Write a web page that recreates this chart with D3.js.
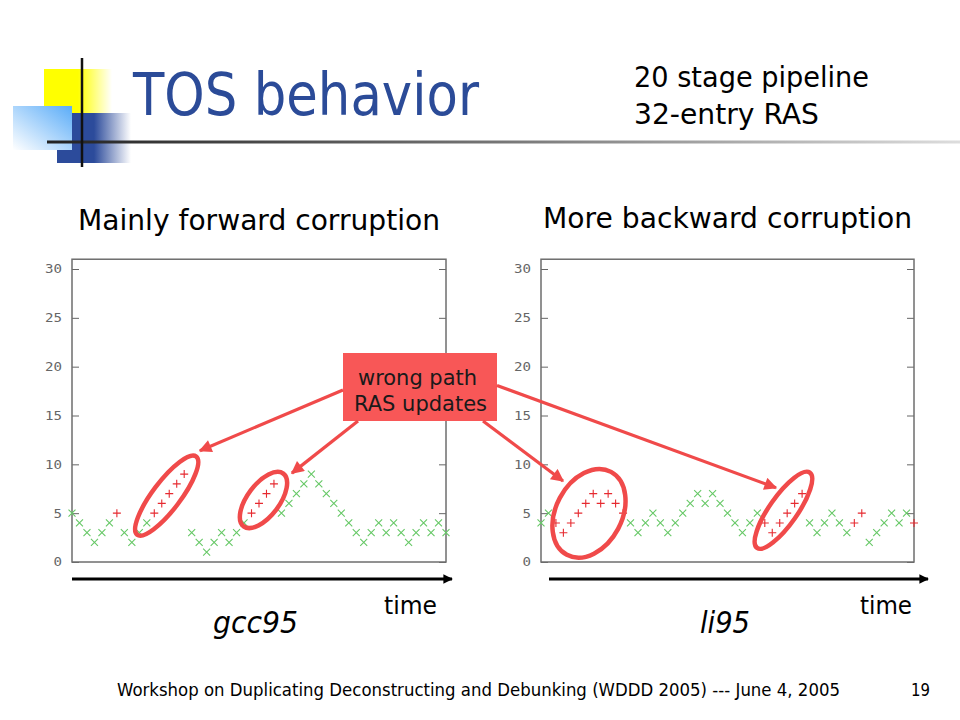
<!DOCTYPE html>
<html>
<head>
<meta charset="utf-8">
<script src="https://cdn.jsdelivr.net/npm/d3@7"></script>
<style>
body { margin: 0; background: #fff; }
svg { display: block; }
</style>
</head>
<body>
<svg id="slide"></svg>
<script>
var width = 960;
var height = 720;

// top of stack value per sample
var gccTOS = [5,4,3,2,3,4,5,3,2,3, 4,5,6,7,8,9,3,2,1,2, 3,2,3,4,5,6,7,8,5,6,
	7,8,9,8,7,6,5,4,3,2, 3,4,3,4,3,2,3,4,3,4, 3];
var liTOS = [4,5,4,3,4,5,6,7,6,7, 6,5,4,3,4,5,4,3,4,5, 6,7,6,7,6,5,4,3,4,5,
	4,3,4,5,6,7,4,3,4,5, 4,3,4,5,2,3,4,5,4,5, 4];
// samples that were wrong path RAS updates (red +)
var gccWrong = [6,11,12,13,14,15,24,25,26,27];
var liWrong = [2,3,4,5,6,7,8,9,10,11,30,31,32,33,34,35,42,43,50];

var yTicks = [0,5,10,15,20,25,30];

var green = "#66c866";
var red = "#e62a30";
var annot = "#f04a4a";
var font = "'DejaVu Sans', Tahoma, sans-serif";

var svg = d3.select("#slide")
.attr("width", width)
.attr("height", height);

svg.append("rect").attr("width", width).attr("height", height).style("fill", "#fff");

var defs = svg.append("defs");

function grad(id, x1, y1, x2, y2, stops) {
	var g = defs.append("linearGradient").attr("id", id)
	.attr("x1", x1).attr("y1", y1).attr("x2", x2).attr("y2", y2);
	stops.forEach(function (s) {
		g.append("stop").attr("offset", s[0]).attr("stop-color", s[1])
		.attr("stop-opacity", s[2]);
	});
}
grad("gYellow", 0, 0, 1, 0, [[0, "#ffff00", 1], [0.5, "#ffff00", 1], [1, "#ffff00", 0]]);
grad("gBlue", 0, 0, 1, 0, [[0, "#2c4b9b", 1], [0.5, "#2c4b9b", 1], [1, "#2c4b9b", 0]]);
grad("gLight", 0, 1, 1, 0, [[0, "#ffffff", 1], [1, "#5aacf8", 1]]);
grad("gRule", 0, 0, 1, 0, [[0, "#222", 1], [0.5, "#777", 1], [1, "#ddd", 1]]);

defs.append("marker").attr("id", "redHead")
.attr("viewBox", "0 0 10 10").attr("refX", 9).attr("refY", 5)
.attr("markerWidth", 4.5).attr("markerHeight", 4).attr("markerUnits", "strokeWidth")
.attr("orient", "auto")
.append("path").attr("d", "M0,0L10,5L0,10z").style("fill", annot);

defs.append("marker").attr("id", "blackHead")
.attr("viewBox", "0 0 10 10").attr("refX", 9).attr("refY", 5)
.attr("markerWidth", 4).attr("markerHeight", 3).attr("markerUnits", "strokeWidth")
.attr("orient", "auto")
.append("path").attr("d", "M0,0L10,5L0,10z").style("fill", "#000");

// logo in the corner
var logo = svg.append("g");
logo.append("rect").attr("x", 44).attr("y", 69).attr("width", 68).attr("height", 44)
.style("fill", "url(#gYellow)");
logo.append("rect").attr("x", 57).attr("y", 113).attr("width", 74).attr("height", 50)
.style("fill", "url(#gBlue)");
logo.append("rect").attr("x", 13).attr("y", 106).attr("width", 59).attr("height", 44)
.style("fill", "url(#gLight)");
logo.append("rect").attr("x", 47).attr("y", 140.5).attr("width", 913).attr("height", 3)
.style("fill", "url(#gRule)");
logo.append("line").attr("x1", 82).attr("x2", 82).attr("y1", 58).attr("y2", 167)
.style("stroke", "#111").style("stroke-width", 2.5);

function label(x, y, size, len, str, opts) {
	opts = opts || {};
	return svg.append("text")
	.attr("x", x).attr("y", y)
	.attr("textLength", len).attr("lengthAdjust", "spacingAndGlyphs")
	.style("font-family", font)
	.style("font-size", size + "px")
	.style("font-style", opts.italic ? "italic" : "normal")
	.style("fill", opts.color || "#000")
	.text(str);
}

label(133, 115, 58, 346, "TOS behavior", {color: "#2b4b98"});
label(634, 87, 29, 235, "20 stage pipeline");
label(634, 124, 29, 185, "32-entry RAS");
label(78, 230, 28, 362, "Mainly forward corruption");
label(543, 228, 28, 369, "More backward corruption");

// one scatter panel
function panel(left, right, values, wrong) {
	var x = d3.scaleLinear().domain([0, values.length - 1]).range([left, right]);
	var y = d3.scaleLinear().domain([0, 30]).range([562, 269]);
	var g = svg.append("g");

	var ax = g.append("g").attr("transform", "translate(" + left + ",0)")
	.call(d3.axisLeft(y).tickValues(yTicks).tickSizeInner(-7).tickSizeOuter(0).tickPadding(10));
	ax.select(".domain").remove();
	ax.selectAll("line").style("stroke", "#666");
	ax.selectAll("text")
	.attr("textLength", function (d) { return d < 10 ? 8.5 : 17; })
	.attr("lengthAdjust", "spacingAndGlyphs")
	.style("font-family", "'DejaVu Sans Mono', monospace")
	.style("font-size", "12px").style("fill", "#666");

	var ax2 = g.append("g").attr("transform", "translate(" + right + ",0)")
	.call(d3.axisRight(y).tickValues(yTicks).tickSizeInner(-7).tickSizeOuter(0).tickFormat(""));
	ax2.select(".domain").remove();
	ax2.selectAll("line").style("stroke", "#666");

	g.append("rect")
	.attr("x", left).attr("y", y(31))
	.attr("width", right - left).attr("height", y(0) - y(31))
	.style("fill", "none").style("stroke", "#6e6e6e").style("stroke-width", 1.5);

	g.selectAll("path.pt")
	.data(values)
	.enter().append("path")
	.attr("class", "pt")
	.attr("transform", function (d, i) {
		return "translate(" + x(i) + "," + y(d) + ")";
	})
	.attr("d", function (d, i) {
		if (wrong.indexOf(i) >= 0)
			return "M-4,0H4M0,-4V4";
		return "M-3.5,-3.5L3.5,3.5M-3.5,3.5L3.5,-3.5";
	})
	.style("fill", "none")
	.style("stroke-width", 1.1)
	.style("stroke", function (d, i) {
		return wrong.indexOf(i) >= 0 ? red : green;
	});

	return {x: x, y: y};
}

var gcc = panel(72, 446, gccTOS, gccWrong);
var li = panel(541, 914, liTOS, liWrong);

// ellipses around the wrong path bursts
function ring(sc, cx, cy, rx, ry, ang) {
	svg.append("ellipse")
	.attr("transform", "translate(" + sc.x(cx) + "," + sc.y(cy) + ") rotate(" + ang + ")")
	.attr("rx", rx).attr("ry", ry)
	.style("fill", "none").style("stroke", annot).style("stroke-width", 4.5);
}
ring(gcc, 12.66, 6.8, 49, 14, -53);
ring(gcc, 25.6, 6.35, 33, 16, -53);
ring(li, 6.43, 4.98, 47, 33, -62);
ring(li, 32.5, 5.3, 46, 14, -55);

// callout box
svg.append("rect").attr("x", 343).attr("y", 353).attr("width", 154).attr("height", 68)
.style("fill", "#f85757");
label(358, 385, 21, 119, "wrong path", {color: "#1a1a1a"});
label(354, 411, 21, 133, "RAS updates", {color: "#1a1a1a"});

function arrow(x1, y1, x2, y2) {
	svg.append("line")
	.attr("x1", x1).attr("y1", y1).attr("x2", x2).attr("y2", y2)
	.style("stroke", annot).style("stroke-width", 3.2)
	.attr("marker-end", "url(#redHead)");
}
arrow(343, 390, gcc.x(17.1), gcc.y(11.4));
arrow(358, 421, gcc.x(29.4), gcc.y(9.1));
arrow(483, 421, li.x(2.95), li.y(8.3));
arrow(497, 385.5, li.x(31.5), li.y(7.6));

// time arrows
function timeArrow(x1, x2) {
	svg.append("line")
	.attr("x1", x1).attr("y1", 579).attr("x2", x2).attr("y2", 579)
	.style("stroke", "#000").style("stroke-width", 3.2)
	.attr("marker-end", "url(#blackHead)");
}
timeArrow(72, 452);
timeArrow(549, 928);

label(384, 614, 25, 53, "time");
label(860, 614, 25, 52, "time");
label(213, 633, 30, 85, "gcc95", {italic: true});
label(700, 633, 30, 50, "li95", {italic: true});

label(117, 696, 17, 723, "Workshop on Duplicating Deconstructing and Debunking (WDDD 2005) --- June 4, 2005");
label(911, 696, 17, 19, "19");
</script>
</body>
</html>
